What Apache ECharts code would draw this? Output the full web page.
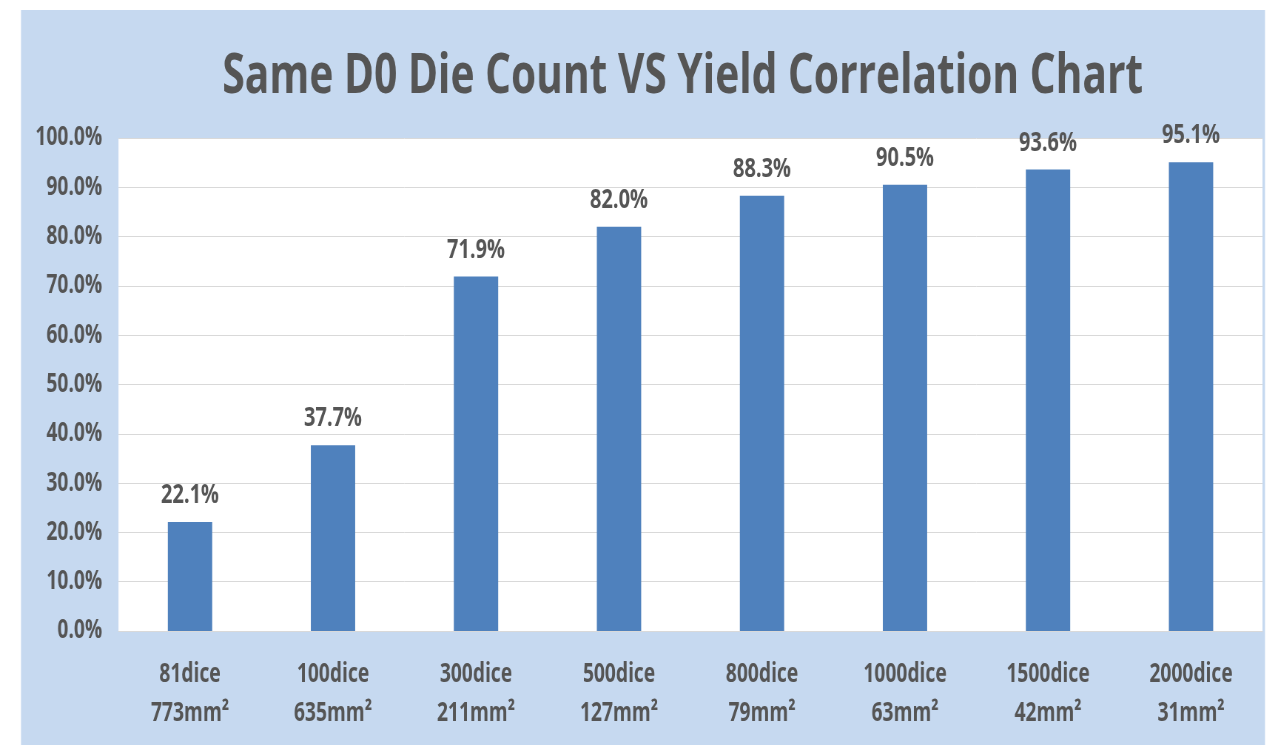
<!DOCTYPE html>
<html>
<head>
<meta charset="utf-8">
<title>Same D0 Die Count VS Yield Correlation Chart</title>
<script src="https://cdn.jsdelivr.net/npm/echarts@6/dist/echarts.min.js"></script>
<style>
  html, body { margin: 0; padding: 0; overflow: hidden; background: #ffffff; }
  #wrap { width: 1267px; height: 751px; overflow: hidden; position: relative; }
  /* The chart is laid out wide and squeezed horizontally, giving the narrow lettering */
  #chart { position: absolute; left: 0; top: 0; height: 751px; transform-origin: 0 0; }
</style>
</head>
<body>
<div id="wrap"><div id="chart"></div></div>
<script>
// Die count per wafer and die area for each column
const dieCounts = ['81dice', '100dice', '300dice', '500dice', '800dice', '1000dice', '1500dice', '2000dice'];
const dieAreas = ['773mm²', '635mm²', '211mm²', '127mm²', '79mm²', '63mm²', '42mm²', '31mm²'];
// Yield (%) at the same defect density
const yieldPct = [22.1, 37.7, 71.9, 82.0, 88.3, 90.5, 93.6, 95.1];
// Value axis range and step (%)
const yMin = 0;
const yMax = 100;
const yStep = 10;

const categories = dieCounts.map((d, i) => d + '\n' + dieAreas[i]);

const SQUEEZE = 0.74;           // horizontal squeeze of the whole drawing
const PAGE_W = 1267, PAGE_H = 751;
const W = PAGE_W / SQUEEZE;     // pre-squeeze drawing width
const px = v => v / SQUEEZE;    // page x -> drawing x

const el = document.getElementById('chart');
el.style.width = W + 'px';
el.style.transform = 'scaleX(' + SQUEEZE + ')';

const FONT = '"Open Sans", "Noto Sans", sans-serif';
const TEXT = '#555555';

const chart = echarts.init(el, null, { renderer: 'canvas', width: W, height: PAGE_H });

chart.setOption({
  backgroundColor: '#ffffff',
  animation: false,
  graphic: [
    {
      type: 'rect',
      z: -10,
      silent: true,
      shape: { x: px(21), y: 10, width: px(1265) - px(21), height: 735 },
      style: { fill: '#c6d9f0' }
    }
  ],
  title: {
    text: 'Same D0 Die Count VS Yield Correlation Chart',
    left: px(679),
    top: 45,
    textAlign: 'center',
    textStyle: { fontFamily: FONT, fontWeight: 'bold', fontSize: 55, color: TEXT }
  },
  grid: {
    left: px(118.5),
    right: W - px(1262.5),
    top: 138,
    bottom: PAGE_H - 631,
    show: true,
    backgroundColor: '#ffffff',
    borderWidth: 0,
    containLabel: false
  },
  xAxis: {
    type: 'category',
    data: categories,
    axisTick: { show: false },
    axisLine: { show: true, lineStyle: { color: '#d9d9d9', width: 1 } },
    axisLabel: {
      interval: 0,
      margin: 24,
      fontFamily: FONT,
      fontWeight: 'bold',
      fontSize: 26,
      lineHeight: 39,
      color: TEXT
    }
  },
  yAxis: {
    type: 'value',
    min: yMin,
    max: yMax,
    interval: yStep,
    axisLine: { show: false },
    axisTick: { show: false },
    splitLine: { show: true, lineStyle: { color: '#d9d9d9', width: 1 } },
    axisLabel: {
      margin: 22,
      fontFamily: FONT,
      fontWeight: 'bold',
      fontSize: 26,
      color: TEXT,
      formatter: v => v.toFixed(1) + '%'
    }
  },
  series: [
    {
      type: 'bar',
      data: yieldPct,
      barWidth: '31%',
      itemStyle: { color: '#4f81bd' },
      label: {
        show: true,
        position: 'top',
        distance: 13,
        fontFamily: FONT,
        fontWeight: 'bold',
        fontSize: 27,
        color: TEXT,
        formatter: p => p.value.toFixed(1) + '%'
      }
    }
  ]
});
</script>
</body>
</html>
